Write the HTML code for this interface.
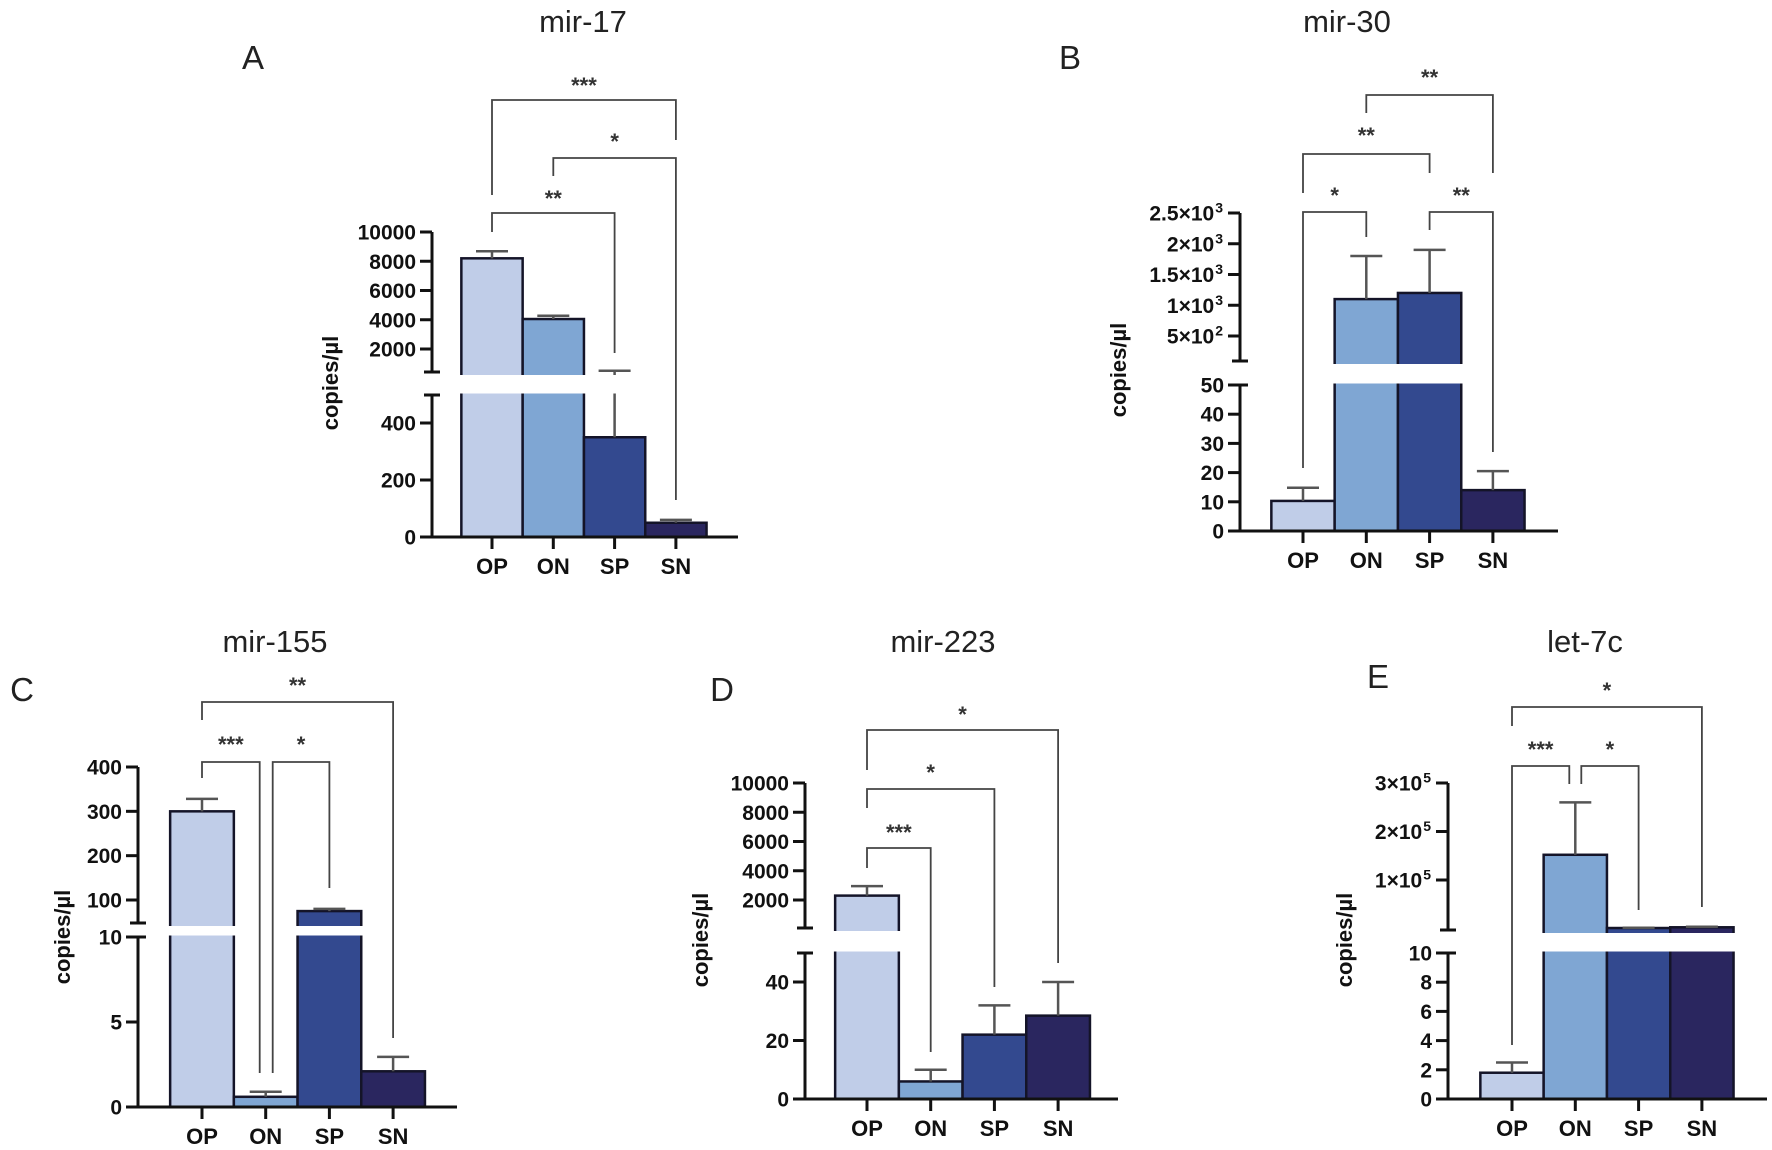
<!DOCTYPE html>
<html>
<head>
<meta charset="utf-8">
<style>
html,body{margin:0;padding:0;background:#fff;}
svg{display:block;}
text{font-family:"Liberation Sans",Arial,sans-serif;}
.tick{font-size:21px;font-weight:bold;fill:#111;}
.xl{font-size:22px;font-weight:bold;fill:#111;}
.yt{font-size:22px;font-weight:bold;fill:#111;}
.title{font-size:31px;fill:#222;}
.plabel{font-size:33px;fill:#222;}
.star{font-size:22px;font-weight:bold;fill:#333;}
</style>
</head>
<body>
<svg id="fig" width="1772" height="1150" viewBox="0 0 1772 1150" xmlns="http://www.w3.org/2000/svg"></svg>
<script>
// ---- data ----
const categories = ['OP','ON','SP','SN'];
const mir17Values = [8200, 4050, 350, 50];
const mir17Sem = [480, 220, 160, 10];
const mir30Values = [10.3, 1100, 1200, 14];
const mir30Sem = [4.5, 700, 700, 6.5];
const mir155Values = [300, 0.6, 75, 2.1];
const mir155Sem = [28, 0.3, 5, 0.85];
const mir223Values = [2300, 6, 22, 28.5];
const mir223Sem = [650, 4, 10, 11.5];
const let7cValues = [1.8, 152000, 1000, 2500];
const let7cSem = [0.7, 108000, 500, 1000];

const mir17UpperTicks = [2000, 4000, 6000, 8000, 10000];
const mir17LowerTicks = [0, 200, 400];
const mir30UpperTicks = [500, 1000, 1500, 2000, 2500];
const mir30UpperLabels = [['5','2'], ['1','3'], ['1.5','3'], ['2','3'], ['2.5','3']];
const mir30LowerTicks = [0, 10, 20, 30, 40, 50];
const mir155UpperTicks = [100, 200, 300, 400];
const mir155LowerTicks = [0, 5, 10];
const mir223UpperTicks = [2000, 4000, 6000, 8000, 10000];
const mir223LowerTicks = [0, 20, 40];
const let7cUpperTicks = [100000, 200000, 300000];
const let7cUpperLabels = [['1','5'], ['2','5'], ['3','5']];
const let7cLowerTicks = [0, 2, 4, 6, 8, 10];

// significance comparisons: [fromIndex, toIndex, label]
const mir17Sig = [[0,3,'***'], [1,3,'*'], [0,2,'**']];
const mir30Sig = [[1,3,'**'], [0,2,'**'], [0,1,'*'], [2,3,'**']];
const mir155Sig = [[0,3,'**'], [0,1,'***'], [1,2,'*']];
const mir223Sig = [[0,3,'*'], [0,2,'*'], [0,1,'***']];
const let7cSig = [[0,3,'*'], [0,1,'***'], [1,2,'*']];

const colors = ['#c0cde8', '#7fa6d3', '#33498f', '#2a265f'];

// ---- layout ----
const NS = 'http://www.w3.org/2000/svg';
const svg = document.getElementById('fig');
function el(tag, attrs, parent) {
  const e = document.createElementNS(NS, tag);
  for (const k in attrs) e.setAttribute(k, attrs[k]);
  (parent || svg).appendChild(e);
  return e;
}
function lin(a) { return v => a.y0 + (v - a.v0) * (a.y1 - a.y0) / (a.v1 - a.v0); }

const panels = [
  { key:'mir-17', letter:'A', values:mir17Values, sem:mir17Sem, upT:mir17UpperTicks, loT:mir17LowerTicks, sig:mir17Sig,
    axisX:432, c0:492, step:61.3, baseEnd:738, titleX:583, titleY:22, letterX:253, letterY:58, ytX:330, ytY:383,
    lower:{v0:0,y0:537,v1:400,y1:423,top:395}, upper:{v0:2000,y0:349,v1:10000,y1:232,bottom:372,top:232},
    br:[[100,195,140,79],[158,176,500,135],[213,232,353,192]] },
  { key:'mir-30', letter:'B', values:mir30Values, sem:mir30Sem, upT:mir30UpperTicks, upL:mir30UpperLabels, loT:mir30LowerTicks, sig:mir30Sig,
    axisX:1240, c0:1303, step:63.3, baseEnd:1558, titleX:1347, titleY:22, letterX:1070, letterY:58, ytX:1118, ytY:370,
    lower:{v0:0,y0:531,v1:50,y1:385,top:385}, upper:{v0:500,y0:336,v1:2500,y1:213,bottom:361,top:213},
    br:[[95,113,173,71],[154,193,173,129],[212,468,237,189],[212,230,452,189]] },
  { key:'mir-155', letter:'C', values:mir155Values, sem:mir155Sem, upT:mir155UpperTicks, loT:mir155LowerTicks, sig:mir155Sig,
    axisX:138, c0:202, step:63.7, baseEnd:457, titleX:275, titleY:642, letterX:22, letterY:690, ytX:62, ytY:937,
    lower:{v0:0,y0:1107,v1:10,y1:937,top:937}, upper:{v0:100,y0:900,v1:400,y1:767,bottom:923,top:767},
    br:[[702,720,1038,679],[762,778,1073,738],[762,1073,888,738]], brX:[[0,0],[0,-6],[7,0]] },
  { key:'mir-223', letter:'D', values:mir223Values, sem:mir223Sem, upT:mir223UpperTicks, loT:mir223LowerTicks, sig:mir223Sig,
    axisX:805, c0:867, step:63.7, baseEnd:1118, titleX:943, titleY:642, letterX:722, letterY:690, ytX:700, ytY:940,
    lower:{v0:0,y0:1099,v1:40,y1:982,top:953}, upper:{v0:2000,y0:900,v1:10000,y1:783,bottom:928,top:783},
    br:[[730,770,963,708],[789,808,987,766],[848,868,1052,826]] },
  { key:'let-7c', letter:'E', values:let7cValues, sem:let7cSem, upT:let7cUpperTicks, upL:let7cUpperLabels, loT:let7cLowerTicks, sig:let7cSig,
    axisX:1448, c0:1512, step:63.3, baseEnd:1767, titleX:1585, titleY:642, letterX:1378, letterY:677, ytX:1344, ytY:940,
    lower:{v0:0,y0:1099,v1:10,y1:953,top:953}, upper:{v0:100000,y0:880,v1:300000,y1:783,bottom:930,top:783},
    br:[[707,726,907,684],[766,1045,784,743],[766,784,910,743]], brX:[[0,0],[0,-6],[6,0]] }
];

panels.forEach((p, pi) => {
  const g = el('g', {});
  
  
  const yLo = lin(p.lower), yUp = lin(p.upper);
  const loMaxVal = p.lower.v0 + (p.lower.top - p.lower.y0) * (p.lower.v1 - p.lower.v0) / (p.lower.y1 - p.lower.y0);
  const Y = v => v <= loMaxVal ? yLo(v) : yUp(v);
  const base = yLo(0);
  const cx = i => p.c0 + i * p.step;

  const t = el('text', {x:p.titleX, y:p.titleY + 10, 'text-anchor':'middle', class:'title'}, g);
  t.textContent = p.key;
  
  
  const lt = el('text', {x:p.letterX, y:p.letterY + 11, 'text-anchor':'middle', class:'plabel'}, g);
  lt.textContent = p.letter;
  
  

  p.values.forEach((v, i) => {
    const x0 = cx(i) - p.step / 2, yt = Y(v);
    const r = el('rect', {x:x0, y:yt, width:p.step, height:base - yt, fill:colors[i], stroke:'#141428', 'stroke-width':2.5}, g);
    
    
  });
  p.values.forEach((v, i) => {
    const y0 = Y(v), y1 = Y(v + p.sem[i]);
    const e = el('path', {d:`M${cx(i)},${y0}V${y1}M${cx(i)-16},${y1}H${cx(i)+16}`, stroke:'#555', 'stroke-width':2.5, fill:'none'}, g);
    
    
  });
  const gap = el('rect', {x:cx(0) - p.step/2 - 3, y:p.upper.bottom + 3, width:p.step*4 + 6, height:p.lower.top - p.upper.bottom - 4.5, fill:'#fff'}, g);
  
  

  const ax = p.axisX;
  const axes = el('path', {d:`M${ax},${p.upper.top}V${p.upper.bottom}M${ax-8},${p.upper.bottom}H${ax+8}M${ax},${p.lower.top}V${base}M${ax-8},${p.lower.top}H${ax+8}M${ax-12},${base}H${p.baseEnd}`, stroke:'#111', 'stroke-width':3, fill:'none'}, g);
  
  

  function tick(v, y, lab) {
    el('line', {x1:ax-12, x2:ax, y1:y, y2:y, stroke:'#111', 'stroke-width':3}, g);
    const tx = el('text', {x:ax-16, y:y + 7.5, 'text-anchor':'end', class:'tick'}, g);
    if (lab) {
      const a = document.createElementNS(NS, 'tspan'); a.textContent = lab[0] + '×10'; tx.appendChild(a);
      const b = document.createElementNS(NS, 'tspan'); b.textContent = lab[1];
      b.setAttribute('dy', '-8'); b.setAttribute('font-size', '14'); b.setAttribute('dx', '1'); tx.appendChild(b);
      tx.setAttribute('x', ax - 17);
    } else tx.textContent = String(v);
    
    
  }
  p.upT.forEach((v, k) => tick(v, yUp(v), p.upL ? p.upL[k] : null));
  p.loT.forEach(v => tick(v, yLo(v), null));

  categories.forEach((c, i) => {
    el('line', {x1:cx(i), x2:cx(i), y1:base, y2:base + 12, stroke:'#111', 'stroke-width':3}, g);
    const xl = el('text', {x:cx(i), y:base + 37, 'text-anchor':'middle', class:'xl'}, g);
    xl.textContent = c;
    
    
  });

  const ytt = el('text', {x:0, y:0, 'text-anchor':'middle', class:'yt', transform:`translate(${p.ytX + 8},${p.ytY}) rotate(-90)`}, g);
  ytt.textContent = 'copies/µl';
  
  

  p.sig.forEach((s, k) => {
    const b = p.br[k];
    const dx = p.brX ? p.brX[k] : [0, 0];
    const xa = cx(s[0]) + dx[0], xb = cx(s[1]) + dx[1];
    const br = el('path', {d:`M${xa},${b[1]}V${b[0]}H${xb}V${b[2]}`, stroke:'#444', 'stroke-width':1.8, fill:'none'}, g);
    
    
    const st = el('text', {x:(xa + xb) / 2, y:b[3] + 14, 'text-anchor':'middle', class:'star'}, g);
    st.textContent = s[2];
    
    
  });
});
</script>
</body>
</html>
